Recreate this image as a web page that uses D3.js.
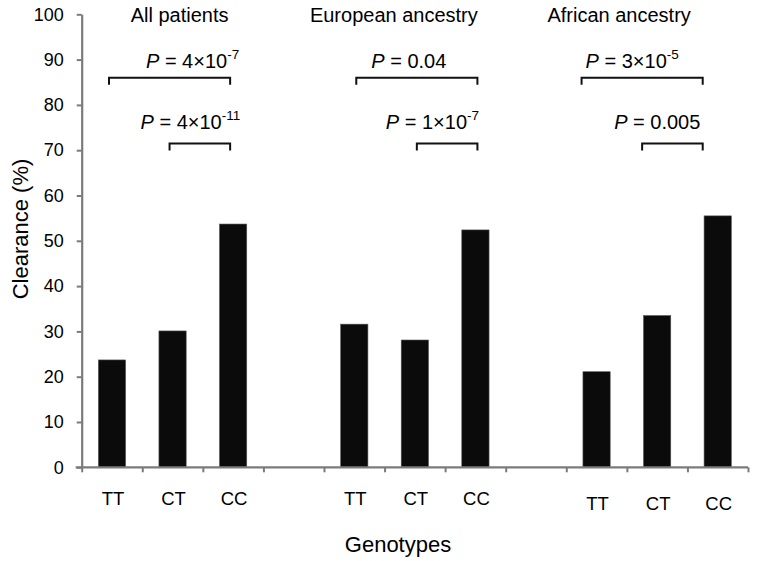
<!DOCTYPE html>
<html>
<head>
    <title>Clearance by genotype</title>
    <style>
        body {
            margin: 0;
            padding: 0;
            background: #fff;
        }
        svg text {
            font-family: Arial, "Liberation Sans", sans-serif;
            fill: #000;
        }
    </style>
</head>
<body>
    <div id="chart"></div>

    <script src="https://d3js.org/d3.v7.min.js"></script>
    <script>
        // data
        const groups = ['All patients', 'European ancestry', 'African ancestry'];
        const genotypes = ['TT', 'CT', 'CC'];
        const allPatients = [23.7, 30.1, 53.7];
        const european = [31.6, 28.1, 52.4];
        const african = [21.1, 33.5, 55.5];
        const yTicks = [0, 10, 20, 30, 40, 50, 60, 70, 80, 90, 100];

        // comparisons: TT vs CC (upper) and CT vs CC (lower)
        const pUpper = [['4×10', '-7'], ['0.04', ''], ['3×10', '-5']];
        const pLower = [['4×10', '-11'], ['1×10', '-7'], ['0.005', '']];
        const upperLevel = 86;
        const lowerLevel = 71.5;

        const width = 758, height = 561;
        const plotLeft = 81.7, plotRight = 748, plotTop = 14.3, plotBottom = 467.3;
        const axisColor = '#7b7b7b';

        // per-group layout nudges, as in the original figure
        const titleDx = [7, -21, -38];
        const bracketDx = [-3, 2, -15];
        const upperLabelDx = [37, 15, 4];
        const lowerLabelDx = [-29, -31, -28];
        const tickLabelDy = [0, 0, 5];

        const seriesValues = [allPatients, european, african];

        // 11 slots: 3 genotypes per group, an empty slot between groups
        const slots = [];
        groups.forEach((g, gi) => {
            genotypes.forEach((gt, ti) => {
                slots.push({ key: gi + '-' + gt, group: gi, genotype: gt, value: seriesValues[gi][ti] });
            });
            if (gi < groups.length - 1) slots.push({ key: 'gap' + gi, group: gi, genotype: null, value: null });
        });

        const x = d3.scaleBand()
            .domain(slots.map(d => d.key))
            .range([plotLeft, plotRight])
            .paddingInner(0.55)
            .paddingOuter(0.275);

        const xEdges = d3.scaleLinear().domain([0, slots.length]).range([plotLeft, plotRight]);

        const y = d3.scaleLinear().domain([0, 100]).range([plotBottom, plotTop]);

        const cx = key => x(key) + x.bandwidth() / 2;

        const svg = d3.select('#chart').append('svg')
            .attr('width', width)
            .attr('height', height);

        svg.append('rect')
            .attr('width', width)
            .attr('height', height)
            .attr('fill', '#fff');

        // bars
        svg.selectAll('rect.bar')
            .data(slots.filter(d => d.value !== null))
            .enter().append('rect')
            .attr('class', 'bar')
            .attr('x', d => x(d.key))
            .attr('width', x.bandwidth())
            .attr('y', d => y(d.value))
            .attr('height', d => y(0) - y(d.value))
            .attr('fill', '#0b0b0b')
            .attr('stroke', '#555')
            .attr('stroke-width', 0.6);

        // y axis
        const yAxis = svg.append('g')
            .attr('transform', `translate(${plotLeft},0)`)
            .call(d3.axisLeft(y).tickValues(yTicks).tickSize(5).tickPadding(13).tickSizeOuter(0));
        yAxis.select('.domain').attr('stroke', axisColor).attr('stroke-width', 2.2);
        yAxis.selectAll('.tick line').attr('stroke', axisColor).attr('stroke-width', 2);
        yAxis.selectAll('.tick text')
            .attr('font-size', 18)
            .attr('font-family', 'Arial, "Liberation Sans", sans-serif')
            .attr('fill', '#000');

        // x axis, ticks at slot edges
        const xAxis = svg.append('g')
            .attr('transform', `translate(0,${plotBottom})`)
            .call(d3.axisBottom(xEdges).tickValues(d3.range(slots.length + 1)).tickFormat('').tickSize(5).tickSizeOuter(0));
        xAxis.select('.domain').attr('stroke', axisColor).attr('stroke-width', 2.2)
            .attr('d', `M${plotLeft - 6},0H${plotRight}`);
        xAxis.selectAll('.tick line').attr('stroke', axisColor).attr('stroke-width', 2);

        // genotype labels
        svg.selectAll('text.gt')
            .data(slots.filter(d => d.genotype))
            .enter().append('text')
            .attr('class', 'gt')
            .attr('x', d => cx(d.key) + 1)
            .attr('y', d => plotBottom + 38 + tickLabelDy[d.group])
            .attr('text-anchor', 'middle')
            .attr('font-size', 18.5)
            .text(d => d.genotype);

        // group titles
        svg.selectAll('text.title')
            .data(groups)
            .enter().append('text')
            .attr('class', 'title')
            .attr('x', (d, i) => cx(i + '-CT') + titleDx[i])
            .attr('y', 22)
            .attr('text-anchor', 'middle')
            .attr('font-size', 20)
            .text(d => d);

        // brackets and P labels
        function bracket(x1, x2, level) {
            const yy = y(level);
            svg.append('path')
                .attr('d', `M${x1},${yy + 7}V${yy}H${x2}V${yy + 7}`)
                .attr('fill', 'none')
                .attr('stroke', '#111')
                .attr('stroke-width', 2);
        }

        function pLabel(xStart, yBase, p) {
            const t = svg.append('text')
                .attr('x', xStart)
                .attr('y', yBase)
                .attr('font-size', 20);
            t.append('tspan').attr('font-style', 'italic').text('P');
            t.append('tspan').text(' = ' + p[0]);
            if (p[1]) {
                t.append('tspan')
                    .attr('font-size', 13.5)
                    .attr('dy', -9)
                    .text(p[1]);
            }
        }

        groups.forEach((g, gi) => {
            const tt = cx(gi + '-TT') + bracketDx[gi];
            const ct = cx(gi + '-CT') + bracketDx[gi];
            const cc = cx(gi + '-CC') + bracketDx[gi];
            bracket(tt, cc, upperLevel);
            bracket(ct, cc, lowerLevel);
            pLabel(tt + upperLabelDx[gi], y(upperLevel) - 10, pUpper[gi]);
            pLabel(ct + lowerLabelDx[gi], y(lowerLevel) - 14, pLower[gi]);
        });

        // axis titles
        svg.append('text')
            .attr('transform', `translate(28,229) rotate(-90)`)
            .attr('text-anchor', 'middle')
            .attr('font-size', 22)
            .text('Clearance (%)');

        svg.append('text')
            .attr('x', 398)
            .attr('y', 552)
            .attr('text-anchor', 'middle')
            .attr('font-size', 22)
            .text('Genotypes');
    </script>
</body>
</html>
